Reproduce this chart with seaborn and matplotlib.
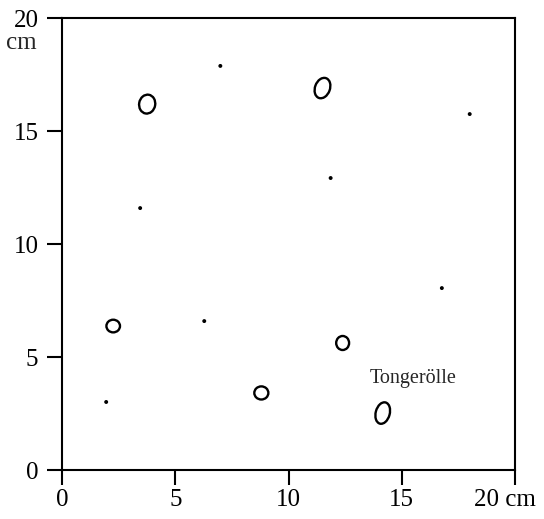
import matplotlib
matplotlib.use("Agg")
import matplotlib.pyplot as plt
from matplotlib.patches import Ellipse
from matplotlib.transforms import ScaledTranslation
import seaborn as sns
import pandas as pd

# Small stones (dots), positions in cm
dot_x = [6.99, 18.0, 11.86, 3.45, 16.77, 6.28, 1.95]
dot_y = [17.88, 15.75, 12.92, 11.59, 8.05, 6.59, 3.01]

# Clay pebbles (open ellipses): centre, width, height (cm) and tilt (deg)
peb_x = [3.76, 11.5, 2.26, 8.8, 12.39, 14.16]
peb_y = [16.19, 16.9, 6.37, 3.41, 5.62, 2.52]
peb_w = [0.71, 0.66, 0.60, 0.62, 0.57, 0.62]
peb_h = [0.84, 0.93, 0.56, 0.58, 0.62, 0.97]
peb_angle = [-10, -20, 0, 0, 0, -15]

ticks = [0, 5, 10, 15, 20]
xtick_labels = ["0", "5", "10", "15", "20 cm"]
ytick_labels = ["0", "5", "10", "15", "20"]
pebble_label = "Tongerölle"

sns.set_style("ticks")
plt.rcParams["font.family"] = ["Liberation Serif", "DejaVu Serif"]

fig = plt.figure(figsize=(5.44, 5.19), dpi=100)
ax = fig.add_axes([0.114, 0.0944, 0.8327, 0.8709])

dots = pd.DataFrame({"x": dot_x, "y": dot_y})
sns.scatterplot(data=dots, x="x", y="y", ax=ax, color="black", s=8,
                edgecolor="none", marker="o", legend=False)

for x, y, w, h, a in zip(peb_x, peb_y, peb_w, peb_h, peb_angle):
    ax.add_patch(Ellipse((x, y), w, h, angle=a, fill=False,
                         edgecolor="black", linewidth=1.7))

ax.text(15.49, 4.07, pebble_label, ha="center", va="center", fontsize=14.5)

ax.set_xlim(0, 20)
ax.set_ylim(0, 20)
ax.set_xticks(ticks)
ax.set_yticks(ticks)
ax.set_xticklabels(xtick_labels)
ax.set_yticklabels(ytick_labels)
ax.set_xlabel("")
ax.set_ylabel("")
ax.tick_params(axis="both", direction="out", length=11, width=1.5,
               labelsize=18, color="black", labelcolor="black")
ax.tick_params(axis="x", pad=3)
ax.tick_params(axis="y", pad=6)
for side in ["left", "right", "top", "bottom"]:
    ax.spines[side].set_visible(True)
    ax.spines[side].set_linewidth(1.5)
    ax.spines[side].set_color("black")

# keep the unit label of the last x tick inside the figure
last = ax.get_xticklabels()[-1]
last.set_transform(last.get_transform()
                   + ScaledTranslation(-7 / 72, 0, fig.dpi_scale_trans))

ax.annotate("cm", xy=(0, 20), xycoords=("axes fraction", "data"),
            xytext=(-29, -22), textcoords="offset points",
            ha="center", va="baseline", fontsize=18, annotation_clip=False)

fig.savefig("out.png", dpi=100, facecolor="white")
